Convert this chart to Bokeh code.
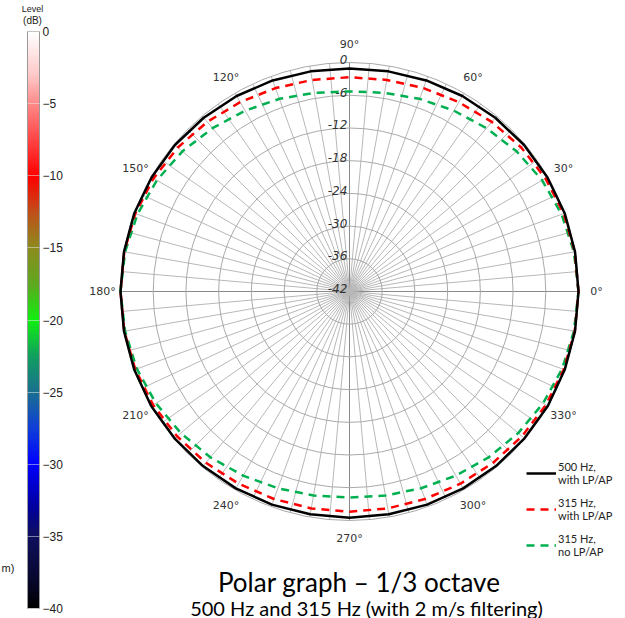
import numpy as np
from bokeh.plotting import figure
from bokeh.models import (Range1d, ColorBar, LinearColorMapper, FixedTicker, Label,
                          Legend, LegendItem, ColumnDataSource, AllLabels)
from bokeh.embed import file_html
from bokeh.resources import INLINE
from bokeh.core.properties import value

# ---------------- data ----------------
angles_deg = [0, 10, 20, 30, 40, 50, 60, 70, 80, 90, 100, 110, 120, 130, 140, 150, 160, 170,
              180, 190, 200, 210, 220, 230, 240, 250, 260, 270, 280, 290, 300, 310, 320, 330, 340, 350]
level_500_lpap = [0.0, 0.0, 0.0, -0.1, -0.2, -0.4, -0.6, -0.8, -1.0, -1.1, -1.0, -0.8, -0.6, -0.4, -0.2, -0.1, 0.0, 0.0,
                  0.0, 0.0, 0.0, 0.0, -0.1, -0.2, -0.3, -0.4, -0.5, -0.5, -0.5, -0.4, -0.3, -0.2, -0.1, 0.0, 0.0, 0.0]
level_315_lpap = [0.0, -0.05, -0.2, -0.5, -0.9, -1.4, -1.9, -2.3, -2.6, -2.7, -2.6, -2.3, -1.9, -1.4, -0.9, -0.5, -0.2, -0.05,
                  0.0, -0.05, -0.2, -0.4, -0.7, -1.0, -1.3, -1.5, -1.6, -1.6, -1.6, -1.5, -1.3, -1.0, -0.7, -0.4, -0.2, -0.05]
level_315_nolpap = [0.0, -0.2, -0.6, -1.2, -2.0, -2.9, -3.7, -4.4, -5.0, -5.3, -5.0, -4.4, -3.7, -2.9, -2.0, -1.2, -0.6, -0.2,
                    0.0, -0.2, -0.5, -1.0, -1.6, -2.3, -3.0, -3.6, -4.0, -4.2, -4.0, -3.6, -3.0, -2.3, -1.6, -1.0, -0.5, -0.2]

series_names = ["500 Hz,\nwith LP/AP", "315 Hz,\nwith LP/AP", "315 Hz,\nno LP/AP"]
ring_levels = [0, -6, -12, -18, -24, -30, -36, -42]
angle_ticks = [0, 30, 60, 90, 120, 150, 180, 210, 240, 270, 300, 330]
angle_tick_labels = ["0°", "30°", "60°", "90°", "120°", "150°", "180°", "210°", "240°", "270°", "300°", "330°"]
spoke_angles = list(range(0, 360, 5))
colorbar_ticks = [0, -5, -10, -15, -20, -25, -30, -35, -40]
colorbar_stop_levels = [-40, -38, -35, -33, -30, -27.5, -25, -22.5, -20, -17.5, -15, -12.5, -10, -5, -3, 0]
colorbar_stop_colors = ["#000000", "#080830", "#101060", "#0000a0", "#0000ff", "#1040d8", "#1a7090", "#10a060",
                        "#10f010", "#60a820", "#8c8c1e", "#c0501a", "#ff0000", "#ff8888", "#ffc8c8", "#ffffff"]

# ---------------- layout constants ----------------
W, H = 625, 618
CX, CY = 349, 291          # polar centre in pixels
RMAX_PX = 229              # radius of the 0 dB ring in pixels
DB_MIN = -42
K = RMAX_PX / (0 - DB_MIN)  # pixels per dB

p = figure(width=W, height=H, output_backend="svg", toolbar_location=None,
           x_range=Range1d(-CX / K, (W - CX) / K), y_range=Range1d(-(H - CY) / K, CY / K),
           x_axis_type=None, y_axis_type=None, min_border=0)
p.grid.visible = False
p.outline_line_color = None
p.background_fill_color = "white"

RMAX = 0 - DB_MIN

# spokes
th = np.radians(spoke_angles)
major = [a % 90 == 0 for a in spoke_angles]
sp_src = ColumnDataSource(dict(x0=np.zeros(len(th)), y0=np.zeros(len(th)),
                               x1=RMAX * np.cos(th), y1=RMAX * np.sin(th),
                               c=["#8a8a8a" if m else "#b8b8b8" for m in major]))
p.segment("x0", "y0", "x1", "y1", source=sp_src, line_color="c", line_width=1)

# rings
ring_r = [lv - DB_MIN for lv in ring_levels if lv > DB_MIN]
p.circle(x=[0] * len(ring_r), y=[0] * len(ring_r), radius=ring_r,
         fill_color=None, line_color="#aaaaaa", line_width=1)

# ring labels
lab_src = ColumnDataSource(dict(x=[-0.4] * len(ring_levels),
                                y=[lv - DB_MIN + 3 / K for lv in ring_levels],
                                t=[str(lv) for lv in ring_levels]))
p.text("x", "y", text="t", source=lab_src, text_align="right", text_baseline="middle",
       text_font=value("DejaVu Sans"), text_font_style="italic", text_font_size="12px",
       text_color="#333333")

# angle labels
RL = 247 / K
ta = np.radians(angle_ticks)
ang_src = ColumnDataSource(dict(x=RL * np.cos(ta), y=RL * np.sin(ta), t=angle_tick_labels))
p.text("x", "y", text="t", source=ang_src, text_align="center", text_baseline="middle",
       text_font=value("DejaVu Sans"), text_font_size="11px", text_color="#333333")

# curves
def polar_xy(levels):
    a = np.radians(angles_deg + [angles_deg[0]])
    r = np.array(levels + [levels[0]]) - DB_MIN
    return r * np.cos(a), r * np.sin(a)

x1, y1 = polar_xy(level_500_lpap)
x2, y2 = polar_xy(level_315_lpap)
x3, y3 = polar_xy(level_315_nolpap)
r3 = p.line(x3, y3, line_color="#00b050", line_width=2.5, line_dash="8 6")
r2 = p.line(x2, y2, line_color="#ff0000", line_width=2.5, line_dash="8 6")
r1 = p.line(x1, y1, line_color="#000000", line_width=2.5)

legend = Legend(items=[LegendItem(label=series_names[0], renderers=[r1]),
                       LegendItem(label=series_names[1], renderers=[r2]),
                       LegendItem(label=series_names[2], renderers=[r3])],
                location=(526, H - 558), orientation="vertical",
                border_line_color=None, background_fill_alpha=0,
                padding=0, margin=0, spacing=10, glyph_width=30, label_standoff=2,
                label_text_font="Lato", label_text_font_size="11px",
                label_text_color="#222222")
p.add_layout(legend, "center")

# colour bar
stops = np.linspace(-40, 0, 256)
def interp_colors(levels):
    rgb = np.array([[int(c[i:i + 2], 16) for i in (1, 3, 5)] for c in colorbar_stop_colors], float)
    out = []
    for lv in levels:
        r = np.interp(lv, colorbar_stop_levels, rgb[:, 0])
        g = np.interp(lv, colorbar_stop_levels, rgb[:, 1])
        b = np.interp(lv, colorbar_stop_levels, rgb[:, 2])
        out.append("#%02x%02x%02x" % (int(r), int(g), int(b)))
    return out

mapper = LinearColorMapper(palette=interp_colors(stops), low=-40, high=0)
cb = ColorBar(color_mapper=mapper, ticker=FixedTicker(ticks=colorbar_ticks),
              major_label_policy=AllLabels(),
              orientation="vertical", width=12, height=577, location=(27, 10),
              padding=0, margin=0, label_standoff=3, title=None,
              bar_line_color="#999999", major_tick_in=12, major_tick_out=0,
              major_tick_line_color="#eeeeee", major_tick_line_alpha=0.5,
              major_label_text_font="Liberation Sans", major_label_text_font_size="12px",
              major_label_text_color="#222222", background_fill_alpha=0)
p.add_layout(cb, "center")

def screen_label(text, x, y_px, size, align="center", baseline="middle", font="Liberation Sans", color="#222222"):
    p.add_layout(Label(x=x, y=H - y_px, x_units="screen", y_units="screen", text=text,
                       text_align=align, text_baseline=baseline, text_font=font,
                       text_font_size=size, text_color=color))

screen_label("Level", 32, 8, "9px")
screen_label("(dB)", 32, 20, "10px")
screen_label("m)", 1, 567, "11px", align="left")
screen_label("Polar graph \u2013  1/3 octave", 362, 581, "26px", font="Lato", color="#000000")
screen_label("500 Hz and 315 Hz (with 2 m/s filtering)", 366, 607, "20px", align="center",
             font="Lato", color="#000000")

open("out.html", "w").write(file_html(p, INLINE))
